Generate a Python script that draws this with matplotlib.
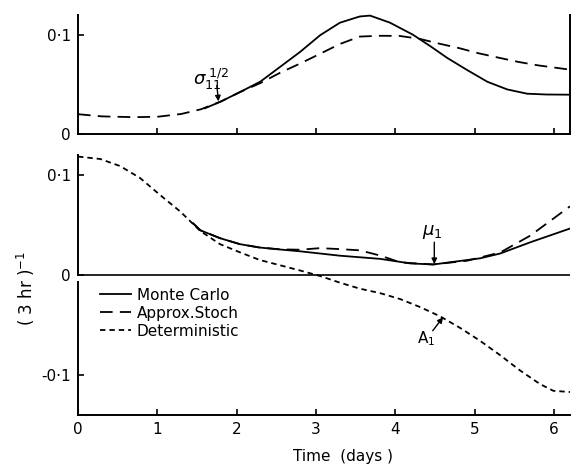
"""
sigma_11^1/2, mu_1 and A_1 versus time: Monte Carlo / approx. stochastic / deterministic
"""
import matplotlib
matplotlib.use("Agg")
import matplotlib.pyplot as plt

# --- top panel: sigma_11^(1/2) ---
sig_t_approx = [0, 0.3, 0.7, 1.0, 1.3, 1.55, 1.8, 2.05, 2.3, 2.55, 2.8, 3.05, 3.3,
                3.55, 3.8, 4.05, 4.3, 4.55, 4.8, 5.05, 5.3, 5.55, 5.8, 6.2]
sig_approx = [0.020, 0.0178, 0.017, 0.0174, 0.0202, 0.025, 0.0328, 0.0427, 0.0515,
              0.062, 0.0712, 0.081, 0.0909, 0.0984, 0.0992, 0.0991, 0.0962, 0.0913,
              0.0868, 0.0815, 0.0771, 0.0728, 0.0693, 0.065]
sig_t_mc = [1.6, 1.8, 2.05, 2.3, 2.55, 2.8, 3.05, 3.3, 3.55, 3.68, 3.93, 4.22, 4.44,
            4.65, 4.9, 5.16, 5.41, 5.66, 5.9, 6.2]
sig_mc = [0.026, 0.0328, 0.0427, 0.053, 0.068, 0.083, 0.0997, 0.1124, 0.1187, 0.1196,
          0.1125, 0.1003, 0.0887, 0.077, 0.0648, 0.0527, 0.045, 0.0407, 0.0399, 0.0397]

# --- bottom panel: mu_1 and A_1 ---
det_t = [0, 0.28, 0.53, 0.78, 1.03, 1.29, 1.54, 1.79, 2.04, 2.29, 2.55, 2.8, 3.05,
         3.3, 3.55, 3.81, 4.06, 4.31, 4.56, 4.82, 5.07, 5.32, 5.57, 5.82, 5.99, 6.2]
det = [0.119, 0.1166, 0.1095, 0.0976, 0.0807, 0.0637, 0.0443, 0.031, 0.0228, 0.0151,
       0.0097, 0.0045, -0.001, -0.0077, -0.0137, -0.0183, -0.0242, -0.0322, -0.0414,
       -0.0534, -0.0663, -0.0806, -0.0959, -0.1095, -0.1164, -0.1176]
mc_t = [1.45, 1.54, 1.79, 2.04, 2.29, 2.55, 2.8, 3.3, 3.81, 4.19, 4.48, 5.07, 5.32,
        5.7, 6.2]
mc = [0.052, 0.045, 0.037, 0.031, 0.0276, 0.0256, 0.0238, 0.0194, 0.0162, 0.0116,
      0.0106, 0.0168, 0.0216, 0.0329, 0.0467]
ap_t = [1.45, 1.54, 1.79, 2.04, 2.29, 2.55, 2.8, 3.05, 3.3, 3.55, 3.81, 4.06, 4.47,
        4.9, 5.32, 5.7, 6.2]
ap = [0.052, 0.045, 0.037, 0.031, 0.0276, 0.0258, 0.0254, 0.027, 0.026, 0.0248,
      0.0195, 0.0127, 0.0106, 0.0143, 0.0226, 0.0396, 0.069]

x_ticks = [0, 1, 2, 3, 4, 5, 6]

FS = 11
LW = 1.3
DASH_LONG = (0, (7, 4))
DASH_SHORT = (0, (3, 2.2))
ARROW = dict(arrowstyle="-|>", lw=1.0, color="k", mutation_scale=8,
             shrinkA=0, shrinkB=0)

fig = plt.figure(figsize=(5.74, 4.70), dpi=100)
W, H = 574, 470


def px_axes(x0, y0, x1, y1):
    return fig.add_axes([x0 / W, 1 - y1 / H, (x1 - x0) / W, (y1 - y0) / H])


def style(ax):
    for s in ax.spines.values():
        s.set_linewidth(1.4)
    ax.spines["top"].set_visible(False)
    ax.tick_params(direction="in", length=4, width=1.2, labelsize=FS, pad=5)
    ax.set_xlim(0, 6.2)
    ax.set_xticks(x_ticks)


# top
ax1 = px_axes(78, 15, 570, 134)
style(ax1)
ax1.set_ylim(0, 0.1202)
ax1.set_yticks([0, 0.1], ["0", "0·1"])
ax1.tick_params(axis="x", labelbottom=False)
ax1.plot(sig_t_approx, sig_approx, color="k", lw=LW, ls=DASH_LONG, clip_on=False)
ax1.plot(sig_t_mc, sig_mc, color="k", lw=LW, clip_on=False)
ax1.text(1.68, 0.0555, r"$\sigma_{11}^{\;1/2}$", fontsize=13, ha="center", va="center")
ax1.annotate("", xy=(1.77, 0.033), xytext=(1.75, 0.049), arrowprops=ARROW)

# bottom
ax2 = px_axes(78, 155, 570, 415)
style(ax2)
ax2.spines["right"].set_visible(False)
ax2.set_ylim(-0.1407, 0.1206)
ax2.set_yticks([-0.1, 0, 0.1], ["-0·1", "0", "0·1"])
ax2.spines["left"].set_bounds(0, 0.1206)
ax2.plot([0, 0], [-0.1407, -0.007], color="k", lw=1.4, clip_on=False)
ax2.axhline(0, color="k", lw=1.2)
ax2.plot(mc_t, mc, color="k", lw=LW, label="Monte Carlo")
ax2.plot(ap_t, ap, color="k", lw=LW, ls=DASH_LONG, label="Approx.Stoch")
ax2.plot(det_t, det, color="k", lw=LW, ls=DASH_SHORT, label="Deterministic")
ax2.legend(loc="upper left", bbox_to_anchor=(0.045, 0.49), frameon=False,
           fontsize=FS, handlelength=2.0, handletextpad=0.4, labelspacing=0.2,
           borderpad=0, borderaxespad=0)

ax2.text(4.46, 0.043, r"$\mu_1$", fontsize=13, ha="center", va="center")
ax2.annotate("", xy=(4.49, 0.011), xytext=(4.49, 0.033), arrowprops=ARROW)
ax2.text(4.39, -0.064, r"A$_1$", fontsize=FS, ha="center", va="center")
ax2.annotate("", xy=(4.6, -0.0425), xytext=(4.47, -0.056), arrowprops=ARROW)

fig.text(26 / W, 1 - 288 / H, r"( 3 hr )$^{-1}$", rotation=90, fontsize=12,
         ha="center", va="center")
fig.text(343 / W, 1 - 457 / H, "Time  (days )", fontsize=FS, ha="center", va="center")

fig.savefig("out.png", dpi=100)
